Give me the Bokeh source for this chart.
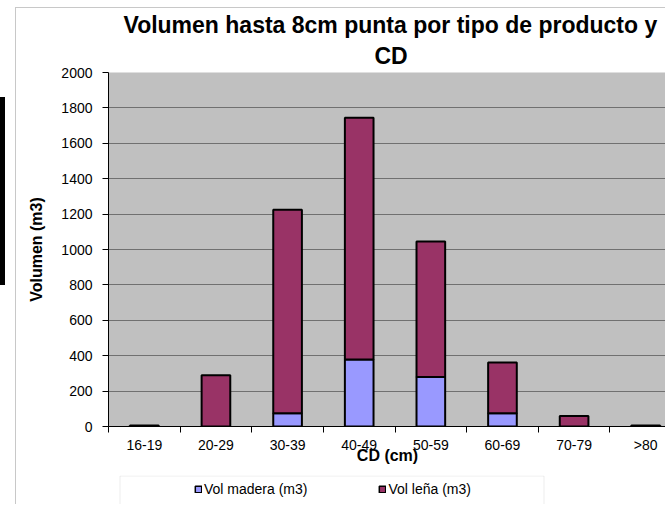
from bokeh.plotting import figure
from bokeh.layouts import column, row
from bokeh.models import (ColumnDataSource, FixedTicker, Range1d, Legend, LegendItem, Title,
                          BoxAnnotation, Div)
from bokeh.embed import file_html
from bokeh.resources import INLINE

# ---- data ----
categories = ["16-19", "20-29", "30-39", "40-49", "50-59", "60-69", "70-79", ">80"]
vol_madera = [0, 0, 75, 378, 280, 75, 0, 0]
vol_lena = [5, 290, 1150, 1367, 765, 287, 60, 5]
y_ticks = [0, 200, 400, 600, 800, 1000, 1200, 1400, 1600, 1800, 2000]
series_names = ["Vol madera (m3)", "Vol leña (m3)"]
series_colors = ["#9999FF", "#993366"]
title_line1 = "Volumen hasta 8cm punta por tipo de producto y"
title_line2 = "CD"

FONT = "Liberation Sans"
BORDER = "1px solid #C8C8C8"

centers = [i + 0.5 for i in range(len(categories))]
bounds = list(range(len(categories) + 1))

src = ColumnDataSource(dict(x=centers, madera=vol_madera, lena=vol_lena))

p = figure(width=650, height=468, output_backend="svg", toolbar_location=None,
           x_range=Range1d(0, 7.79), y_range=Range1d(0, 2000),
           min_border_left=92, min_border_right=0, min_border_top=64,
           min_border_bottom=50, background_fill_color="#C0C0C0",
           border_fill_color="white", outline_line_color=None,
           margin=(7, 0, 0, 10), styles={"border-left": BORDER, "border-top": BORDER})

p.vbar_stack(["madera", "lena"], x="x", width=0.4, source=src,
             color=series_colors, line_color="black", line_width=2)

# axes
p.yaxis.ticker = FixedTicker(ticks=y_ticks)
p.yaxis.major_tick_out = 6
p.yaxis.major_tick_in = 0
p.yaxis.minor_tick_out = 0
p.yaxis.minor_tick_in = 0
p.yaxis.major_label_standoff = 10
p.yaxis.axis_line_color = "black"
p.yaxis.major_tick_line_color = "black"
p.yaxis.major_label_text_font = FONT
p.yaxis.major_label_text_font_size = "14px"
p.yaxis.major_label_text_color = "black"
p.yaxis.axis_label = "Volumen (m3)"
p.yaxis.axis_label_text_font = FONT
p.yaxis.axis_label_text_font_style = "bold"
p.yaxis.axis_label_text_font_size = "16px"
p.yaxis.axis_label_text_color = "black"
p.yaxis.axis_label_standoff = 13

p.xaxis.ticker = FixedTicker(ticks=centers, minor_ticks=bounds)
p.xaxis.major_label_overrides = {c: lab for c, lab in zip(centers, categories)}
p.xaxis.major_tick_out = 0
p.xaxis.major_tick_in = 0
p.xaxis.minor_tick_out = 6
p.xaxis.minor_tick_in = 0
p.xaxis.minor_tick_line_color = "black"
p.xaxis.major_label_standoff = 4
p.xaxis.axis_line_color = "black"
p.xaxis.major_label_text_font = FONT
p.xaxis.major_label_text_font_size = "14px"
p.xaxis.major_label_text_color = "black"
p.xaxis.axis_label = "CD (cm)"
p.xaxis.axis_label_text_font = FONT
p.xaxis.axis_label_text_font_style = "bold"
p.xaxis.axis_label_text_font_size = "16px"
p.xaxis.axis_label_text_color = "black"
p.xaxis.axis_label_standoff = -9

p.xgrid.grid_line_color = None
p.ygrid.grid_line_color = "#707070"
p.ygrid.grid_line_width = 1

p.add_layout(Title(text=title_line2, align="left", offset=266, standoff=7, text_font=FONT,
                   text_font_style="bold", text_font_size="23px", text_color="black"),
             "above")
p.add_layout(Title(text=title_line1, align="left", offset=15, standoff=0, text_font=FONT,
                   text_font_style="bold", text_font_size="23px", text_color="black"),
             "above")

# ---- legend strip ----
pl = figure(width=650, height=29, output_backend="svg", toolbar_location=None,
            x_range=Range1d(-20, -19), y_range=Range1d(-20, -19),
            x_axis_location=None, y_axis_location=None,
            min_border_left=0, min_border_right=0, min_border_top=0, min_border_bottom=0,
            background_fill_color="white", border_fill_color="white",
            outline_line_color=None, margin=(0, 0, 0, 10), styles={"border-left": BORDER})
pl.xgrid.grid_line_color = None
pl.ygrid.grid_line_color = None

pl.add_layout(BoxAnnotation(left=102.5, right=526.5, top=0.5, bottom=300,
                            left_units="canvas", right_units="canvas",
                            top_units="canvas", bottom_units="canvas",
                            fill_color="white", fill_alpha=1,
                            line_color="#C0C0C0", line_width=1))

# same stacked series (outside the strip's visible range) so the legend swatches match
proxies = pl.vbar_stack(["madera", "lena"], x="x", width=0.4, source=src,
                        color=series_colors, line_color="black", line_width=1.5)
legend = Legend(items=[LegendItem(label=n, renderers=[r])
                       for n, r in zip(series_names, proxies)],
                orientation="horizontal", location=(86, 5), padding=0, margin=0,
                spacing=71, label_standoff=2, glyph_width=8, glyph_height=8,
                label_height=20, label_text_font=FONT, label_text_font_size="14px",
                label_text_color="black", border_line_alpha=0, background_fill_alpha=0)
pl.add_layout(legend, "center")

# black strip at the far left edge of the page
edge = Div(text="", width=5, height=188, margin=(97, 0, 0, 0),
           styles={"background-color": "black"})

layout = row(edge, column(p, pl, spacing=0), spacing=0)
open("out.html", "w").write(file_html(layout, INLINE))
